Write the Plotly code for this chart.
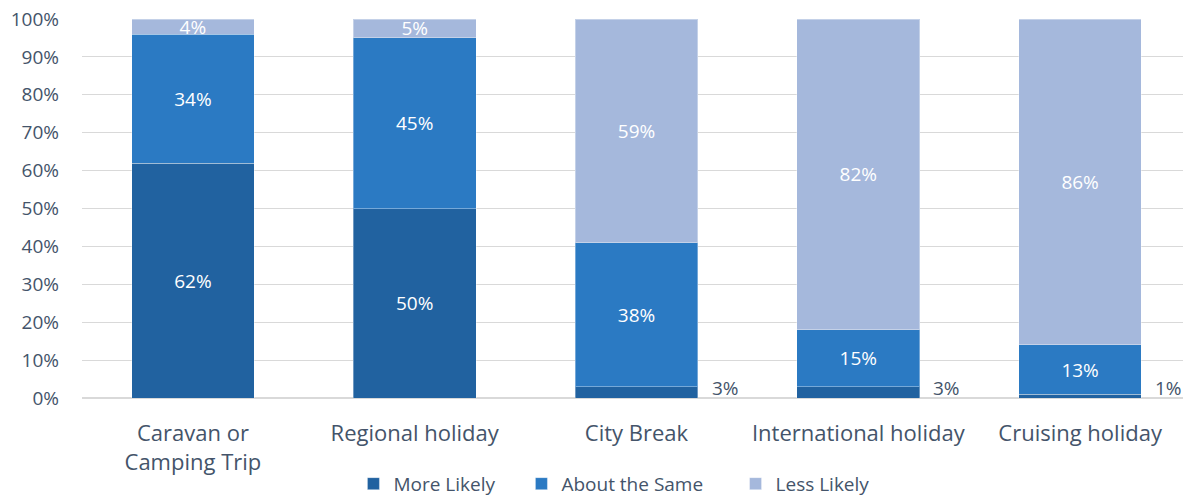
import plotly.graph_objects as go

categories = ["Caravan or<br>Camping Trip", "Regional holiday", "City Break",
              "International holiday", "Cruising holiday"]
more_likely = [62, 50, 3, 3, 1]
about_same = [34, 45, 38, 15, 13]
less_likely = [4, 5, 59, 82, 86]
series_names = ["More Likely", "About the Same", "Less Likely"]
colors = ["#2162A0", "#2B7AC3", "#A5B8DC"]
y_ticks = [0, 10, 20, 30, 40, 50, 60, 70, 80, 90, 100]
y_tick_labels = [f"{v}%" for v in y_ticks]

FONT = "Open Sans"
TEXT = "#44546A"

fig = go.Figure()
small = 3
legend_ids = ["legend", "legend2", "legend3"]
legend_x = [0.292, 0.434, 0.615]
for name, vals, col, lg in zip(series_names, [more_likely, about_same, less_likely], colors, legend_ids):
    texts = [f"{v}%" if v > small else "" for v in vals]
    fig.add_trace(go.Bar(
        x=categories, y=vals, name=name, marker_color=col,
        marker_line=dict(color="rgba(255,255,255,0.35)", width=1),
        text=texts, textposition="inside", insidetextanchor="middle",
        textfont=dict(color="white", size=19, family=FONT),
        constraintext="none", hoverinfo="skip", legend=lg,
    ))
    for c, v in zip(categories, vals):
        if v <= small:
            fig.add_annotation(x=c, y=0, text=f"{v}%", showarrow=False,
                               xanchor="left", yanchor="bottom",
                               xshift=73, yshift=-5,
                               font=dict(color=TEXT, size=19, family=FONT))

legend_common = dict(orientation="h", xref="container", xanchor="left",
                     yref="container", y=0.029, yanchor="middle",
                     font=dict(size=19, color=TEXT, family=FONT),
                     bgcolor="rgba(0,0,0,0)")
fig.update_layout(
    barmode="stack", bargap=0.447,
    width=1183, height=490,
    margin=dict(l=74, r=0, t=11, b=100),
    plot_bgcolor="white", paper_bgcolor="white",
    font=dict(family=FONT, color=TEXT),
    uniformtext=dict(minsize=19, mode="show"),
    legend=dict(x=legend_x[0], **legend_common),
    legend2=dict(x=legend_x[1], **legend_common),
    legend3=dict(x=legend_x[2], **legend_common),
    showlegend=True,
)
fig.update_yaxes(range=[0, 100], tickvals=y_ticks, ticktext=y_tick_labels,
                 gridcolor="#D9D9D9", gridwidth=1, zeroline=True,
                 zerolinecolor="#D9D9D9", zerolinewidth=2,
                 tickfont=dict(size=19, color=TEXT, family=FONT),
                 ticks="", showline=False, automargin=False,
                 ticklabelstandoff=22, ticklabeloverflow="allow")
fig.update_xaxes(tickfont=dict(size=22, color=TEXT, family=FONT), showline=False,
                 ticks="", ticklabelstandoff=20, automargin=False)

fig.write_html("out.html")
